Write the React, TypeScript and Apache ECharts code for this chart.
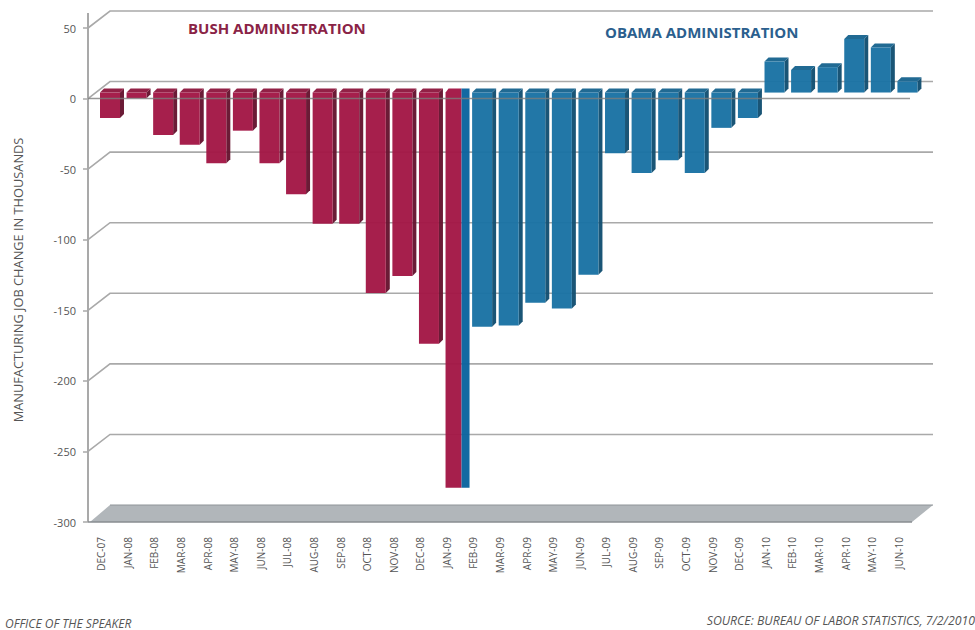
import React, { useEffect, useRef } from "react";
import * as echarts from "echarts";

const months = ["DEC-07","JAN-08","FEB-08","MAR-08","APR-08","MAY-08","JUN-08","JUL-08","AUG-08","SEP-08","OCT-08","NOV-08","DEC-08","JAN-09","FEB-09","MAR-09","APR-09","MAY-09","JUN-09","JUL-09","AUG-09","SEP-09","OCT-09","NOV-09","DEC-09","JAN-10","FEB-10","MAR-10","APR-10","MAY-10","JUN-10"];
const jobChange = [-18,-4,-30,-37,-50,-27,-50,-72,-93,-93,-142,-130,-178,-280,-166,-165,-149,-153,-129,-43,-57,-48,-57,-25,-18,22,16,18,38,32,8];
const admin = ["B","B","B","B","B","B","B","B","B","B","B","B","B","S","O","O","O","O","O","O","O","O","O","O","O","O","O","O","O","O","O"];
const gridValues = [50,0,-50,-100,-150,-200,-250,-300];

const RED = "#a31846", RED_TOP = "#8e1a40", RED_SIDE = "#66142f";
const BLUE = "#1b73a4", BLUE_TOP = "#1a6590", BLUE_SIDE = "#134f72", BLUE_BRIGHT = "#0b649f";
const GRID = "#a9a9a9";
const TEXT = "#555";
const FONT = "'Open Sans', sans-serif";

function poly(points: number[][], fill: string, opacity = 1) {
  return { type: "polygon", shape: { points }, style: { fill, opacity } };
}

function renderGrid(params: any, api: any) {
  const cs = params.coordSys;
  const v = api.value(0);
  const y = api.coord([0, v])[1];
  const x0 = cs.x, dx = 22, dy = 17, right = cs.x + 845;
  const children: any[] = [];
  if (v === -300) {
    children.push(poly([[x0 + 2, y], [x0 + 824, y], [right, y - dy], [x0 + dx, y - dy]], "#b1b6ba"));
    children.push({ type: "line", shape: { x1: x0 + dx, y1: y - dy, x2: right, y2: y - dy }, style: { stroke: "#8f9498", lineWidth: 1 } });
    children.push({ type: "line", shape: { x1: x0, y1: y, x2: x0 + 824, y2: y }, style: { stroke: "#888d91", lineWidth: 1.5 } });
  } else {
    children.push({
      type: "polyline",
      shape: { points: [[x0, y], [x0 + dx, y - dy], [right, y - dy]] },
      style: { stroke: GRID, lineWidth: 1.6, fill: "none" },
    });
  }
  if (params.dataIndex === 0) {
    children.push({ type: "line", shape: { x1: x0, y1: y - 15, x2: x0, y2: cs.y + cs.height }, style: { stroke: GRID, lineWidth: 2 } });
  }
  return { type: "group", children };
}

function renderBar(params: any, api: any) {
  const i = api.value(0), v = api.value(1);
  const kind = admin[i];
  const c = api.coord([i, v]);
  const zero = api.coord([i, 0]);
  const w = 20, d = 4, left = c[0] - 1.3;
  const base = zero[1] - 6;
  const valueY = c[1] - 6;
  const top = Math.min(base, valueY), bottom = Math.max(base, valueY);
  const right = left + w;
  const op = 0.97;
  if (kind === "S") {
    return {
      type: "group",
      children: [
        poly([[left, top], [left + 3, top - d], [left + 16, top - d], [left + 16, bottom], [left, bottom]], RED, op),
        poly([[left + 16, top - d], [left + 24, top - d], [left + 24, bottom], [left + 16, bottom]], BLUE_BRIGHT, op),
      ],
    };
  }
  const front = kind === "B" ? RED : BLUE;
  const cap = kind === "B" ? RED_TOP : BLUE_TOP;
  const side = kind === "B" ? RED_SIDE : BLUE_SIDE;
  return {
    type: "group",
    children: [
      poly([[right, top], [right + d, top - d], [right + d, bottom - d], [right, bottom]], side, op),
      poly([[left, top], [left + d, top - d], [right + d, top - d], [right, top]], cap, op),
      poly([[left, top], [right, top], [right, bottom], [left, bottom]], front, op),
    ],
  };
}

function renderZeroLine(params: any, api: any) {
  const cs = params.coordSys;
  const y = api.coord([0, api.value(0)])[1];
  return {
    type: "line",
    shape: { x1: cs.x, y1: y, x2: cs.x + 822, y2: y },
    style: { stroke: "rgba(125,125,125,0.8)", lineWidth: 1.5 },
  };
}

export default function App() {
  const ref = useRef<HTMLDivElement>(null);
  useEffect(() => {
    const chart = echarts.init(ref.current!, undefined, { renderer: "svg" });
    chart.setOption({
      animation: false,
      backgroundColor: "#ffffff",
      grid: { left: 88, top: 28, width: 824, height: 494, containLabel: false },
      xAxis: {
        type: "category",
        data: months,
        axisLine: { show: false },
        axisTick: { show: false },
        splitLine: { show: false },
        axisLabel: { rotate: 90, interval: 0, margin: 15, fontSize: 10, color: TEXT, fontFamily: FONT },
      },
      yAxis: {
        type: "value",
        min: -300,
        max: 50,
        interval: 50,
        splitLine: { show: false },
        axisLine: { show: false },
        axisTick: { show: true, length: 5, lineStyle: { color: GRID, width: 1.5 } },
        axisLabel: { margin: 12, fontSize: 11, color: TEXT, fontFamily: FONT },
      },
      graphic: [
        { type: "text", x: 188, y: 28, style: { text: "BUSH ADMINISTRATION", fill: "#8a2346", font: `bold 15px ${FONT}`, textVerticalAlign: "middle" } },
        { type: "text", x: 605, y: 32, style: { text: "OBAMA ADMINISTRATION", fill: "#2b5f8e", font: `bold 15px ${FONT}`, textVerticalAlign: "middle" } },
        { type: "text", x: 18, y: 280, rotation: Math.PI / 2, style: { text: "MANUFACTURING JOB CHANGE IN THOUSANDS", fill: TEXT, font: `12.8px ${FONT}`, textAlign: "center", textVerticalAlign: "middle" } },
        { type: "text", x: 5, y: 623, style: { text: "OFFICE OF THE SPEAKER", fill: TEXT, font: `italic 12px ${FONT}`, textVerticalAlign: "middle" } },
        { type: "text", x: 975, y: 620, style: { text: "SOURCE: BUREAU OF LABOR STATISTICS, 7/2/2010", fill: TEXT, font: `italic 12.3px ${FONT}`, textAlign: "right", textVerticalAlign: "middle" } },
      ],
      series: [
        { type: "custom", silent: true, z: 1, renderItem: renderGrid, data: gridValues.map((v) => [v]), encode: { y: 0 }, clip: false },
        { type: "custom", silent: true, z: 2, renderItem: renderBar, data: jobChange.map((v, i) => [i, v]), encode: { x: 0, y: 1 }, clip: false },
        { type: "custom", silent: true, z: 3, renderItem: renderZeroLine, data: [[0]], encode: { y: 0 }, clip: false },
      ],
    });
    return () => chart.dispose();
  }, []);
  return <div ref={ref} style={{ position: "absolute", left: 0, top: 0, width: 975, height: 630 }} />;
}
